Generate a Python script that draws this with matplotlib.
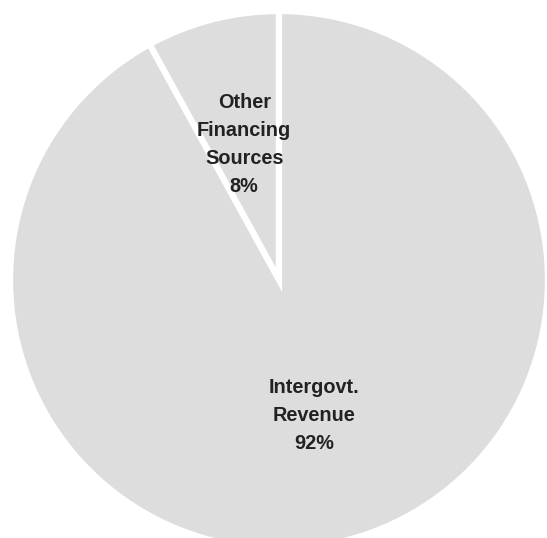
import matplotlib
matplotlib.use("Agg")
import matplotlib.pyplot as plt

# Revenue sources (percent of total)
categories = ["Other\nFinancing\nSources", "Intergovt.\nRevenue"]
shares = [8, 92]
slice_colors = ["#dddddd", "#dddddd"]

fig = plt.figure(figsize=(5.47, 5.38), dpi=100)
ax = fig.add_axes([0, 0, 1, 1])

labels = [f"{c}\n{v}%" for c, v in zip(categories, shares)]
wedges, texts = ax.pie(
    shares,
    labels=labels,
    colors=slice_colors,
    startangle=90,
    counterclock=True,
    center=(279, 258),
    radius=269,
    labeldistance=0.52,
    wedgeprops=dict(edgecolor="white", linewidth=4.5),
    textprops=dict(family="Liberation Sans", fontweight="bold",
                   fontsize=14.3, color="#222222", linespacing=1.62),
    frame=True,
)
for t in texts:
    t.set_horizontalalignment("center")
    t.set_verticalalignment("center")

ax.set_xlim(0, 547)
ax.set_ylim(0, 538)
ax.set_aspect("equal")
ax.axis("off")

fig.savefig("out.png", dpi=100)
